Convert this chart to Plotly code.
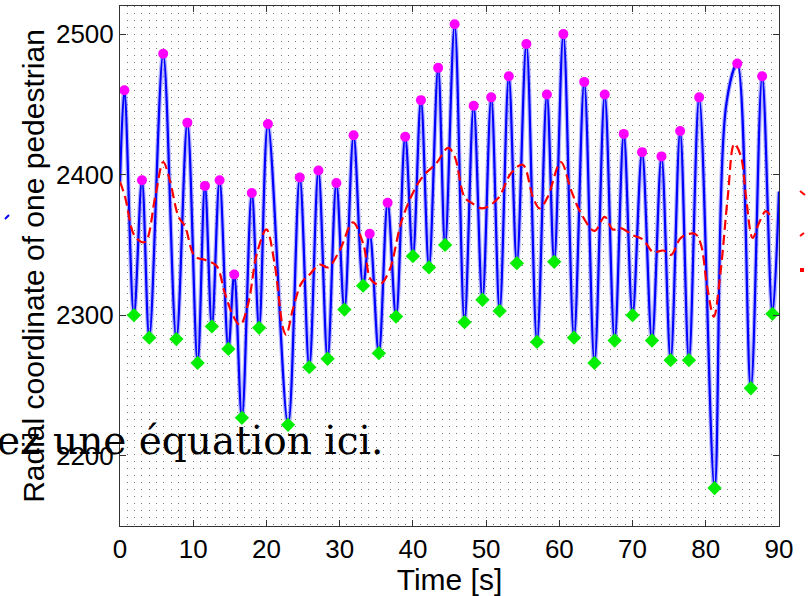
import plotly.graph_objects as go

# ---- data ----
peak_t = [0.6, 3.0, 5.9, 9.2, 11.6, 13.6, 15.6, 18.0, 20.2, 24.55, 27.1, 29.55,
          31.9, 34.1, 36.55, 38.95, 41.1, 43.45, 45.7, 48.3, 50.7, 53.1, 55.5,
          58.3, 60.55, 63.4, 66.2, 68.8, 71.3, 73.95, 76.5, 79.1, 84.3, 87.7]
peak_y = [2460, 2396, 2486, 2437, 2392, 2396, 2329, 2387, 2436, 2398, 2403, 2394,
          2428, 2358, 2380, 2427, 2453, 2476, 2507, 2449, 2455, 2470, 2493,
          2457, 2500, 2466, 2457, 2429, 2416, 2413, 2431, 2455, 2479, 2470]

trough_t = [1.9, 4.0, 7.7, 10.6, 12.55, 14.8, 16.65, 19.0, 22.95, 25.85, 28.35,
            30.65, 33.2, 35.35, 37.7, 40.0, 42.2, 44.4, 47.05, 49.5, 51.85, 54.2,
            56.95, 59.3, 62.0, 64.8, 67.55, 70.0, 72.65, 75.2, 77.7, 81.2, 86.15, 89.1]
trough_y = [2300, 2284, 2283, 2266, 2292, 2276, 2227, 2291, 2222, 2263, 2269,
            2304, 2321, 2273, 2299, 2342, 2334, 2350, 2295, 2311, 2303, 2337,
            2281, 2338, 2284, 2266, 2282, 2300, 2282, 2268, 2268, 2177, 2248, 2301]

# additional samples of the signal (start, shoulder, end)
extra_t = [0.0, 82.8, 90.0]
extra_y = [2395, 2450, 2388]

# moving average (red dashed)
ma_t = [0, 0.7, 2.05, 3.4, 4.8, 5.9, 6.8, 8.0, 8.9, 10.2, 11.8, 13.2, 14.3, 15.5,
        16.4, 17.5, 18.7, 20.0, 21.1, 22.3, 22.7, 23.6, 24.8, 25.9, 27.3, 28.4,
        30.0, 31.8, 33.2, 34.3, 35.5, 36.8, 38.4, 40.0, 41.4, 43.2, 44.8, 45.7,
        47.05, 48.0, 49.5, 51.6, 53.4, 55.0, 56.4, 57.3, 58.4, 60.2, 61.6, 62.9,
        64.8, 66.2, 67.3, 68.4, 70.0, 71.4, 72.8, 74.2, 75.3, 76.6, 78.5, 79.3,
        80.2, 81.1, 82.0, 83.0, 83.9, 84.8, 85.5, 86.4, 87.3, 88.2, 89.1]
ma_y = [2395, 2384, 2356, 2352, 2384, 2409, 2396, 2370, 2363, 2342, 2339, 2335,
        2316, 2299, 2293, 2308, 2344, 2361, 2337, 2290, 2286, 2304, 2323, 2329,
        2336, 2334, 2346, 2366, 2351, 2325, 2322, 2332, 2366, 2387, 2399, 2408,
        2419, 2413, 2384, 2380, 2376, 2383, 2401, 2407, 2384, 2376, 2384, 2409,
        2389, 2373, 2360, 2370, 2361, 2362, 2357, 2354, 2345, 2346, 2343, 2355,
        2358, 2351, 2320, 2299, 2330, 2384, 2422, 2413, 2384, 2355, 2366, 2374, 2368]

x_ticks = [0, 10, 20, 30, 40, 50, 60, 70, 80, 90]
y_ticks = [2200, 2300, 2400, 2500]

# signal knots = all extrema + extra samples, in time order
sig = sorted(zip(peak_t + trough_t + extra_t, peak_y + trough_y + extra_y))
sig_t = [p[0] for p in sig]
sig_y = [p[1] for p in sig]

fig = go.Figure()
fig.add_trace(go.Scatter(x=sig_t, y=sig_y, mode="lines",
                         line=dict(color="rgba(110,110,255,0.5)", width=4.5,
                                   shape="spline", smoothing=1.0),
                         hoverinfo="skip", showlegend=False))
fig.add_trace(go.Scatter(x=sig_t, y=sig_y, mode="lines",
                         line=dict(color="#0000ff", width=2.2,
                                   shape="spline", smoothing=1.0),
                         showlegend=False))
fig.add_trace(go.Scatter(x=ma_t, y=ma_y, mode="lines",
                         line=dict(color="#ff0000", width=2.2, dash="10px,5px",
                                   shape="spline", smoothing=1.0),
                         showlegend=False))
fig.add_trace(go.Scatter(x=peak_t, y=peak_y, mode="markers",
                         marker=dict(symbol="circle", size=10, color="#ff00ff",
                                     line=dict(width=0)),
                         showlegend=False))
fig.add_trace(go.Scatter(x=trough_t, y=trough_y, mode="markers",
                         marker=dict(symbol="diamond", size=11, color="#00ee00",
                                     line=dict(width=0)),
                         showlegend=False))

L, R, T, B = 120, 32, 6, 70
W, H = 811, 596
pw, ph = W - L - R, H - T - B


def px(xp):
    return (xp - L) / pw


def py(yp):
    return (H - B - yp) / ph


axis_font = dict(family="Liberation Sans, Arial, sans-serif", size=26, color="black")
title_font = dict(family="Liberation Sans, Arial, sans-serif", size=30, color="black")

fig.update_layout(
    width=W, height=H,
    margin=dict(l=L, r=R, t=T, b=B, autoexpand=False),
    paper_bgcolor="white", plot_bgcolor="white",
    xaxis=dict(range=[0, 90], tickvals=x_ticks, ticktext=[str(v) for v in x_ticks],
               ticks="inside", ticklen=6, tickwidth=1, tickcolor="#333",
               showline=True, linecolor="#333", linewidth=1, mirror="ticks",
               showgrid=True, gridcolor="#777", gridwidth=1, griddash="1px,6px",
               minor=dict(dtick=1, tick0=0, showgrid=True, gridcolor="#777",
                          gridwidth=1, griddash="1px,6px", ticks=""),
               zeroline=False, tickfont=axis_font, automargin=False,
               title=dict(text="Time [s]", font=title_font, standoff=0)),
    yaxis=dict(range=[2150, 2520], tickvals=y_ticks, ticktext=[str(v) for v in y_ticks],
               ticks="inside", ticklen=6, tickwidth=1, tickcolor="#333",
               showline=True, linecolor="#333", linewidth=1, mirror="ticks",
               showgrid=False, zeroline=False, tickfont=axis_font, automargin=False,
               title=dict(text="Radial coordinate of one pedestrian",
                          font=title_font, standoff=2)),
    annotations=[
        dict(text="ez une équation ici.", xref="paper", yref="paper",
             x=px(-5), y=py(440), xanchor="left", yanchor="middle",
             showarrow=False,
             font=dict(family="DejaVu Serif, serif", size=39, color="black")),
    ],
    shapes=[
        dict(type="line", xref="paper", yref="paper", x0=px(5), x1=px(9),
             y0=py(219), y1=py(215), line=dict(color="#0000ff", width=2)),
        dict(type="line", xref="paper", yref="paper", x0=px(800), x1=px(805),
             y0=py(191), y1=py(195), line=dict(color="#ff0000", width=2)),
        dict(type="line", xref="paper", yref="paper", x0=px(800), x1=px(804),
             y0=py(236), y1=py(233), line=dict(color="#ff0000", width=2)),
        dict(type="rect", xref="paper", yref="paper", x0=px(800), x1=px(804),
             y0=py(272), y1=py(268), line=dict(width=0), fillcolor="#ff0000"),
    ],
)

fig.write_html("out.html",
               config={"displayModeBar": False},
               post_script="document.body.style.margin='0px';"
                           "document.body.style.padding='0px';")
